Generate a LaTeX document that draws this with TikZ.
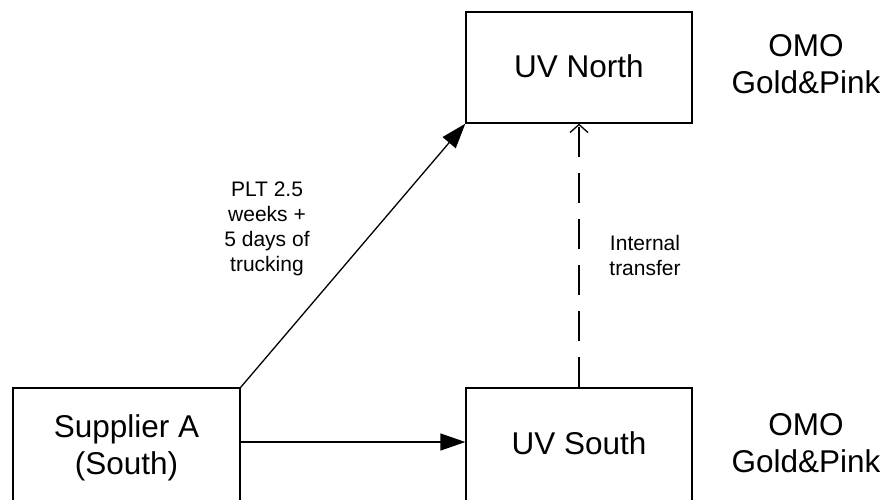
\documentclass[tikz,border=0pt]{standalone}
\usepackage{fontspec}
\setmainfont{Liberation Sans}
\usetikzlibrary{arrows.meta}
\begin{document}
\begin{tikzpicture}[x=1pt,y=-1pt,
  box/.style={draw,line width=1.3pt,minimum width=226pt,minimum height=111pt,inner sep=0pt},
  lowbox/.style={box,minimum height=117pt},
  bigtext/.style={align=center,inner sep=0pt,font=\fontsize{31.5}{37}\selectfont},
  smalltext/.style={align=center,inner sep=0pt,font=\fontsize{21}{25}\selectfont},
  link/.style={line width=1.3pt,-{Triangle[length=25pt,width=17pt]}},
  transfer/.style={line width=1.3pt,dash pattern=on 30pt off 16pt,
    -{Straight Barb[length=8pt,width=18pt,line width=1.3pt]}}]
\useasboundingbox (0,0) rectangle (883,499);
% warehouses and supplier (lower boxes run past the bottom edge)
\node[box,bigtext] (uvn) at (579,67.5) {};
\node[lowbox] (uvs) at (579,446.5) {};
\node[lowbox,minimum width=227pt] (sup) at (126.5,446.5) {};
\node[bigtext] (uvnt) at (579,66) {UV North};
\node[bigtext] (uvst) at (579,443.5) {UV South};
\node[bigtext] (supt) at (126.5,448) {Supplier A\\(South)};
% product labels
\node[bigtext] (omon) at (806,64.5) {OMO\\Gold\&Pink};
\node[bigtext] (omos) at (806,443) {OMO\\Gold\&Pink};
% flows
\draw[link] (sup.north east) -- (uvn.south west);
\draw[link] (sup.east |- 0,442) coordinate (s1) -- (uvs.west |- s1);
\draw[transfer] (uvs.north) -- (uvn.south);
% flow labels
\node[smalltext] (plt) at (267,229) {PLT 2.5\\weeks +\\5 days of\\trucking};
\node[smalltext] (int) at (645,255) {Internal\\transfer};
\end{tikzpicture}
\end{document}
